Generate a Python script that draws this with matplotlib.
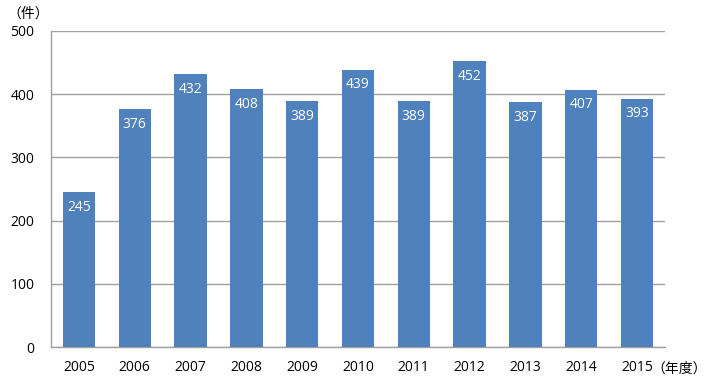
import matplotlib
matplotlib.use("Agg")
import matplotlib.pyplot as plt

plt.rcParams['font.family'] = ['Open Sans', 'Noto Sans CJK JP', 'DejaVu Sans']

years = ["2005", "2006", "2007", "2008", "2009", "2010", "2011", "2012", "2013", "2014", "2015"]
counts = [245, 376, 432, 408, 389, 439, 389, 452, 387, 407, 393]

bar_color = '#4F81BD'
grid_color = '#A0A0A0'

fig = plt.figure(figsize=(7.1, 3.86), dpi=100)
ax = fig.add_axes([0.0718, 0.101, 0.8648, 0.8187])

x = range(len(years))
ax.bar(x, counts, 0.58, color=bar_color, zorder=3)
for i, v in zip(x, counts):
    ax.text(i, v - 12, str(v), ha='center', va='top', color='white', fontsize=10, zorder=4)

ax.set_xlim(-0.5, len(years) - 0.5)
ax.set_ylim(0, 500)
ax.set_yticks(range(0, 501, 100))
ax.set_xticks(list(x))
ax.set_xticklabels(years)
ax.tick_params(length=0, labelsize=10, colors='black')
ax.tick_params(axis='x', pad=9)
ax.tick_params(axis='y', pad=12)
ax.yaxis.grid(True, color=grid_color, linewidth=1, zorder=0)

for s in ['top', 'right']:
    ax.spines[s].set_visible(False)
for s in ['left', 'bottom']:
    ax.spines[s].set_color(grid_color)
    ax.spines[s].set_linewidth(1)

fig.text(0.010, 0.963, '（件）', fontsize=10, va='center', ha='left')
fig.text(0.918, 0.044, '（年度）', fontsize=10, va='center', ha='left')

fig.savefig("out.png", dpi=100)
